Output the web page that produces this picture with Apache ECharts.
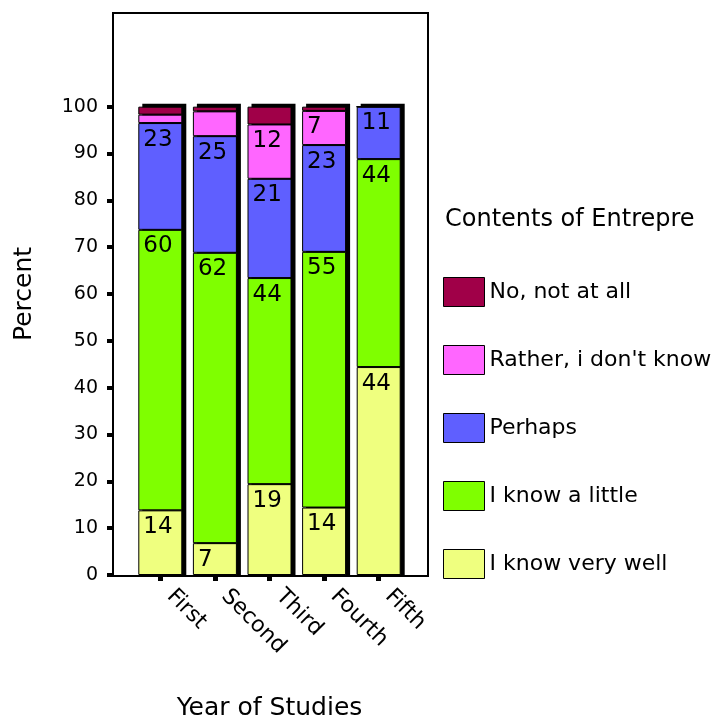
<!DOCTYPE html>
<html>
<head>
<meta charset="utf-8">
<script src="https://cdn.jsdelivr.net/npm/echarts@6/dist/echarts.min.js"></script>
<style>
    html, body { margin: 0; padding: 0; background: #fff; }
    #chart { width: 716px; height: 720px; }
</style>
</head>
<body>
<div id="chart"></div>
<script>
/* data (percent of each year) */
var years = ['First', 'Second', 'Third', 'Fourth', 'Fifth'];
var knowVeryWell = [13.8, 6.8, 19.4, 14.4, 44.4];
var knowLittle = [59.9, 62.0, 44.0, 54.6, 44.4];
var perhaps = [22.8, 24.9, 21.2, 22.8, 11.2];
var ratherDontKnow = [1.8, 5.3, 11.6, 7.3, 0];
var notAtAll = [1.7, 1.0, 3.8, 0.9, 0];
var yTicks = [0, 10, 20, 30, 40, 50, 60, 70, 80, 90, 100];

var font = 'DejaVu Sans';
var barW = 44;

var initChart = function () {
    var dom = document.getElementById('chart');
    var myChart = echarts.init(dom);

    /* total height of each stacked bar, for the black drop shadow */
    var totals = years.map(function (y, i) {
        return [i, knowVeryWell[i] + knowLittle[i] + perhaps[i] + ratherDontKnow[i] + notAtAll[i]];
    });

    var makeSeries = function (name, data, color) {
        return {
            name: name,
            type: 'bar',
            stack: 'total',
            barWidth: barW,
            z: 3,
            data: data,
            itemStyle: {
                color: color,
                borderColor: '#000',
                borderWidth: 1
            },
            label: {
                show: true,
                position: 'insideTopLeft',
                distance: 5,
                color: '#000',
                fontFamily: font,
                fontSize: 23,
                formatter: function (p) {
                    return p.value >= 6 ? String(Math.round(p.value)) : '';
                }
            },
            emphasis: { disabled: true }
        };
    };

    var option = {
        backgroundColor: '#fff',
        animation: false,
        title: {
            text: 'Contents of Entrepre',
            left: 440,
            top: 203,
            textStyle: { fontFamily: font, fontSize: 24, fontWeight: 'normal', color: '#000' }
        },
        legend: {
            orient: 'vertical',
            left: 438,
            top: 272,
            itemWidth: 41,
            itemHeight: 29,
            itemGap: 38,
            icon: 'rect',
            data: ['No, not at all', "Rather, i don't know", 'Perhaps', 'I know a little', 'I know very well'],
            itemStyle: { borderColor: '#000', borderWidth: 1 },
            textStyle: { fontFamily: font, fontSize: 22, color: '#000' }
        },
        grid: {
            left: 133,
            right: 310,
            top: 13,
            bottom: 145,
            outerBoundsMode: 'none'
        },
        graphic: [{
            type: 'rect',
            shape: { x: 113, y: 13, width: 315, height: 563 },
            style: { fill: 'none', stroke: '#000', lineWidth: 2 },
            z: 10
        }],
        xAxis: {
            type: 'category',
            data: years,
            name: 'Year of Studies',
            nameLocation: 'middle',
            nameGap: 121,
            nameTextStyle: { fontFamily: font, fontSize: 25, color: '#000' },
            axisLine: { show: true, lineStyle: { color: 'rgba(0,0,0,0)' } },
            axisTick: { show: true, alignWithLabel: true, length: 6, lineStyle: { color: '#000', width: 5 } },
            axisLabel: { rotate: -45, margin: 8, padding: [0, 0, 0, 14], fontFamily: font, fontSize: 22, color: '#000' }
        },
        yAxis: {
            type: 'value',
            min: 0,
            max: 120,
            interval: 10,
            offset: 20,
            name: 'Percent',
            nameLocation: 'middle',
            nameGap: 76,
            nameTextStyle: { fontFamily: font, fontSize: 25, color: '#000' },
            axisLine: { show: false },
            splitLine: { show: false },
            axisTick: { show: true, customValues: yTicks, length: 6, lineStyle: { color: '#000', width: 4 } },
            axisLabel: { customValues: yTicks, margin: 15, fontFamily: font, fontSize: 19, color: '#000' }
        },
        series: [
            {
                name: 'shadow',
                type: 'custom',
                z: 1,
                silent: true,
                data: totals,
                encode: { x: 0, y: 1 },
                renderItem: function (params, api) {
                    var top = api.coord([api.value(0), api.value(1)]);
                    var base = api.coord([api.value(0), 0]);
                    return {
                        type: 'rect',
                        shape: { x: top[0] - barW / 2 + 4, y: top[1] - 3, width: barW, height: base[1] - top[1] + 3 },
                        style: { fill: '#000' }
                    };
                }
            },
            makeSeries('I know very well', knowVeryWell, '#efff7f'),
            makeSeries('I know a little', knowLittle, '#7fff00'),
            makeSeries('Perhaps', perhaps, '#5f5fff'),
            makeSeries("Rather, i don't know", ratherDontKnow, '#ff66ff'),
            makeSeries('No, not at all', notAtAll, '#a00048')
        ]
    };
    myChart.setOption(option);
};
initChart();
</script>
</body>
</html>
